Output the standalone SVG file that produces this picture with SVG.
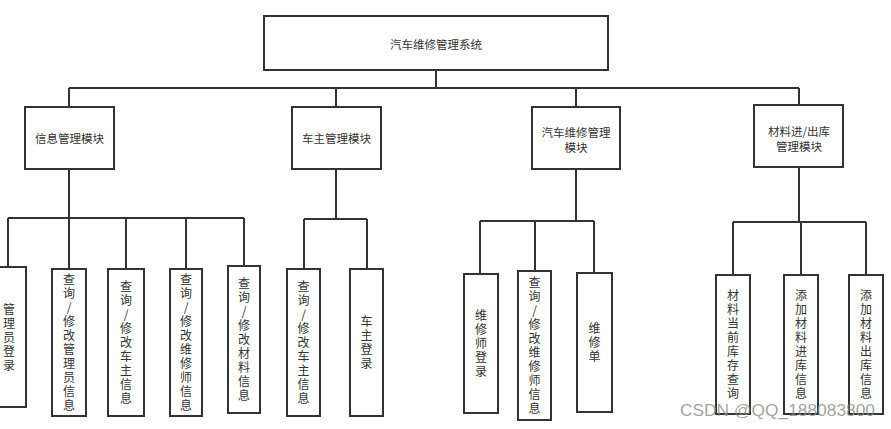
<svg xmlns="http://www.w3.org/2000/svg" width="891" height="429" viewBox="0 0 891 429">
<style>
.box{fill:#fff;stroke:#333;stroke-width:2}
.ln{fill:none;stroke:#333;stroke-width:2}
.t{font-family:"Noto Sans CJK SC","Noto Sans",sans-serif;font-size:11.5px;fill:#333;text-anchor:middle;dominant-baseline:central}
.v{font-family:"Noto Sans CJK SC","Noto Sans",sans-serif;font-size:12px;fill:#333;text-anchor:middle;writing-mode:vertical-rl;text-orientation:upright;letter-spacing:2px}
.wm{font-family:"Liberation Sans",Arial,sans-serif;font-size:17px;fill:#8a8a8a;fill-opacity:0.8}
</style>
<rect width="891" height="429" fill="#fff"/>
<g id="connectors">
<path class="ln" d="M436 70V88M69 88H799M69 88V107M336 88V107M576 88V107M799 88V105"/>
<path class="ln" d="M69 169V218M8 218H244M8 218V267M69 218V269M126 218V269M186 218V269M244 218V266"/>
<path class="ln" d="M336 169V219M304 219H367M304 219V269M367 219V269"/>
<path class="ln" d="M576 169V221M480 221H594M480 221V274M535 221V271M594 221V273"/>
<path class="ln" d="M799 167V222M733 222H866M733 222V275M801 222V275M866 222V275"/>
</g>
<g id="root">
<rect class="box" x="264" y="16" width="344" height="54"/>
<text class="t" x="436" y="44">汽车维修管理系统</text>
</g>
<g id="m1">
<rect class="box" x="25" y="107" width="89" height="62"/>
<text class="t" x="69.5" y="138">信息管理模块</text>
</g>
<g id="m2">
<rect class="box" x="292" y="107" width="89" height="62"/>
<text class="t" x="336.5" y="138">车主管理模块</text>
</g>
<g id="m3">
<rect class="box" x="532" y="107" width="88" height="62"/>
<text class="t"><tspan x="576" y="132">汽车维修管理</tspan><tspan x="576" dy="15">模块</tspan></text>
</g>
<g id="m4">
<rect class="box" x="754" y="105" width="89" height="62"/>
<text class="t"><tspan x="799" y="131">材料进/出库</tspan><tspan x="799" dy="15">管理模块</tspan></text>
</g>
<g id="n1">
<rect class="box" x="-10" y="267" width="36" height="140"/>
<text class="v" x="9" y="338">管理员登录</text>
</g>
<g id="n2">
<rect class="box" x="52" y="269" width="34" height="147"/>
<text class="v" x="69" y="343.5">查询/修改管理员信息</text>
</g>
<g id="n3">
<rect class="box" x="108" y="269" width="36" height="147"/>
<text class="v" x="126" y="343.5">查询/修改车主信息</text>
</g>
<g id="n4">
<rect class="box" x="170" y="269" width="32" height="147"/>
<text class="v" x="186" y="343.5">查询/修改维修师信息</text>
</g>
<g id="n5">
<rect class="box" x="228" y="266" width="32" height="147"/>
<text class="v" x="244" y="340.5">查询/修改材料信息</text>
</g>
<g id="n6">
<rect class="box" x="287" y="269" width="33" height="147"/>
<text class="v" x="303.5" y="343.5">查询/修改车主信息</text>
</g>
<g id="n7">
<rect class="box" x="350" y="269" width="33" height="147"/>
<text class="v" x="366.5" y="343.5">车主登录</text>
</g>
<g id="n8">
<rect class="box" x="464" y="274" width="34" height="139"/>
<text class="v" x="481" y="344.5">维修师登录</text>
</g>
<g id="n9">
<rect class="box" x="518" y="271" width="33" height="149"/>
<text class="v" x="534.5" y="346.5">查询/修改维修师信息</text>
</g>
<g id="n10">
<rect class="box" x="577" y="273" width="35" height="139"/>
<text class="v" x="594.5" y="343.5">维修单</text>
</g>
<g id="n11">
<rect class="box" x="716" y="275" width="34" height="139"/>
<text class="v" x="733" y="345.5">材料当前库存查询</text>
</g>
<g id="n12">
<rect class="box" x="784" y="275" width="34" height="139"/>
<text class="v" x="801" y="345.5">添加材料进库信息</text>
</g>
<g id="n13">
<rect class="box" x="849" y="275" width="34" height="139"/>
<text class="v" x="866" y="345.5">添加材料出库信息</text>
</g>
<text class="wm" x="680" y="416" textLength="195" lengthAdjust="spacingAndGlyphs">CSDN @QQ_188083800</text>
</svg>
